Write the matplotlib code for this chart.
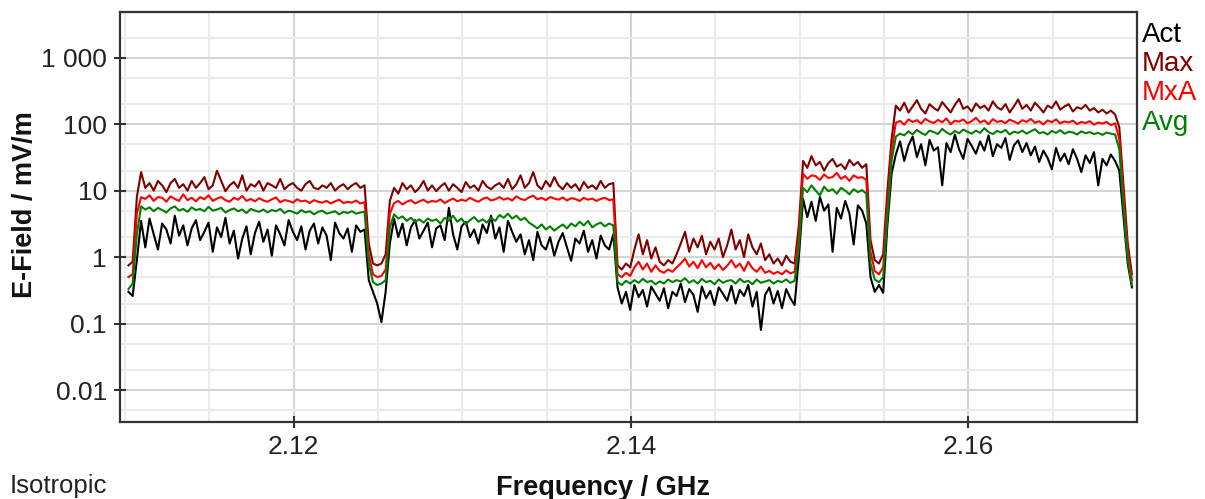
import numpy as np
import matplotlib
matplotlib.use("Agg")
import matplotlib.pyplot as plt
from matplotlib.ticker import FixedLocator, LogLocator, MultipleLocator, NullFormatter

plt.rcParams['font.family'] = ['Liberation Sans', 'DejaVu Sans']

# sweep limits (GHz), one trace point every 0.25 MHz
f_start, f_stop = 2.1102, 2.1697

# E-field in mV/m
act = [0.3, 0.26, 0.9,
       # band 1
       3.5, 1.4, 3.8, 2.2, 1.3, 3.2, 2.6, 1.6, 4.2, 2.1, 3, 1.5, 2.7, 3.6, 1.8, 2.4, 3.3, 1.2,
       2.8, 2, 3.9, 1.6, 2.5, 0.95, 1.9, 2.9, 1.1, 2.3, 3.4, 1.7, 2.6, 1.05, 3, 2.2, 1.5, 3.6,
       2.4, 1.8, 2.9, 1.3, 2.5, 3.2, 1.6, 2.8, 2.1, 0.9, 3.3, 2.3, 1.9, 2.7, 1.2, 3, 2.4, 2.6,
       # notch
       0.45, 0.3, 0.2, 0.105, 0.3, 1.6,
       # band 2
       3.8, 2, 3.2, 1.5, 2.8, 3.6, 1.9, 2.5, 3.3, 1.4, 2.7, 3, 1.8, 5.5, 2.2, 1.3, 2.9, 3.4,
       2, 2.6, 1.6, 3.1, 2.3, 4.2, 1.9, 2.8, 1.2, 3.5, 2.4, 1.7, 2.2, 1.1, 1.8, 0.9, 2.4, 1.5,
       1.3, 2, 1.05, 1.7, 2.3, 1.4, 0.88, 1.9, 1.6, 2.5, 1.2, 1.8, 0.95, 2.1, 1.5, 1.3, 2.2,
       # band 3 (quiet)
       0.35, 0.2, 0.3, 0.16, 0.38, 0.25, 0.32, 0.18, 0.36, 0.28, 0.22, 0.34, 0.17, 0.3, 0.26,
       0.4, 0.21, 0.33, 0.27, 0.15, 0.36, 0.24, 0.31, 0.19, 0.35, 0.28, 0.22, 0.37, 0.2, 0.32,
       0.26, 0.38, 0.18, 0.3, 0.08, 0.27, 0.35, 0.2, 0.31, 0.17, 0.33, 0.24, 0.19,
       1.0,
       # band 4
       7.5, 4, 6.8, 3.5, 8, 5, 6.2, 1.2, 5.5, 3.8, 7, 4.5, 1.55, 6, 5, 3.2,
       0.5, 0.3, 0.38, 0.29, 3, 18,
       # band 5
       35, 55, 28, 48, 65, 32, 50, 24, 58, 40, 45, 12, 52, 38, 70, 42, 30, 60, 47, 36, 55, 40,
       68, 33, 50, 44, 62, 29, 48, 57, 38, 52, 34, 46, 27, 40, 31, 21, 44, 28, 36, 25, 42, 30,
       19, 34, 26, 38, 12, 30, 24, 35, 28,
       20, 4, 0.8, 0.35]

mx = [0.75, 0.85, 8,
      19, 11, 13, 10, 14, 12, 9.5, 13, 15, 11, 12.5, 10, 14, 11, 13, 16, 10.5, 12, 20, 14,
      9.8, 12, 13.5, 11, 17, 10, 12.5, 11.5, 14, 10, 13, 12, 11, 15, 10.5, 12, 13, 11, 10,
      12.5, 14, 11, 10.5, 12, 11, 13, 10, 11.5, 12.5, 10.5, 12, 13, 11, 12,
      1.6, 0.8, 0.75, 0.8, 1.1, 7,
      11, 9, 13, 10.5, 12, 9.5, 11, 14, 10, 12, 9.8, 11.5, 13, 10, 12.5, 11, 9.5, 13.5, 11,
      12, 10, 14, 11.5, 10.5, 12, 13, 11, 15, 10.5, 12.5, 17, 11, 13, 19, 12, 10.5, 14, 11.5,
      16, 12, 10.5, 13, 11, 12.5, 10, 13.5, 11, 12, 10.5, 14, 11, 12.5, 13,
      0.75, 0.65, 0.8, 0.7, 1.3, 2.2, 1.1, 1.8, 0.95, 1.4, 0.85, 0.75, 0.9, 0.8, 1.1, 1.6,
      2.4, 1.2, 1.9, 1.4, 2.1, 1.1, 1.7, 1.3, 1.9, 1, 1.5, 2.6, 1.3, 1.8, 1, 2.2, 1.4, 1.1,
      1.6, 0.9, 1.1, 0.8, 0.95, 0.75, 1.05, 0.85, 0.8,
      3,
      28, 22, 33, 24, 27, 20, 26, 30, 23, 25, 21, 29, 24, 27, 22, 25,
      1.8, 0.9, 0.8, 1.1, 10, 60,
      190, 160, 210, 150, 185, 230, 170, 145, 200, 175, 160, 215, 180, 150, 195, 240, 170,
      185, 155, 205, 175, 190, 160, 220, 180, 165, 200, 150, 185, 235, 170, 195, 160, 210,
      180, 150, 190, 175, 220, 165, 185, 200, 155, 180, 170, 195, 160, 175, 150, 165, 145,
      160, 140,
      90, 12, 1.6, 0.55]

mxa = [0.5, 0.55, 4.5,
       8, 7.5, 8.5, 7, 8, 7.8, 6.8, 8.2, 7.5, 7, 8.8, 7.2, 7.8, 6.9, 8, 7.4, 8.5, 7, 7.6, 8,
       7.2, 6.8, 7.8, 7.3, 8.3, 7, 7.5, 6.9, 7.7, 7.1, 6.8, 7.4, 7.9, 6.7, 7.2, 7, 6.6, 7.4,
       6.9, 7.1, 6.5, 7.2, 6.8, 6.6, 7, 6.4, 6.9, 7.3, 6.5, 6.8, 6.6, 7.1, 6.4, 6.7,
       1.1, 0.55, 0.5, 0.52, 0.65, 4.5,
       6.5, 7, 6.2, 6.8, 7.2, 6.4, 6.9, 7.3, 6.6, 7, 6.8, 7.4, 6.5, 7.1, 7.6, 6.9, 7.3, 7,
       7.8, 7.2, 6.8, 7.5, 7.9, 7.1, 7.4, 8, 7.3, 7.7, 7.1, 8.2, 7.5, 7.2, 7.9, 8.4, 7.4, 7.8,
       7.2, 8, 7.6, 7.3, 7.9, 7.1, 7.7, 7.5, 7, 7.8, 7.3, 7.6, 7, 7.5, 7.8, 7.2, 7.4,
       0.55, 0.5, 0.58, 0.52, 0.7, 0.85, 0.65, 0.8, 0.6, 0.75, 0.62, 0.58, 0.65, 0.6, 0.7,
       0.8, 0.95, 0.72, 0.85, 0.68, 0.9, 0.7, 0.82, 0.66, 0.78, 0.64, 0.74, 0.9, 0.7, 0.8,
       0.62, 0.85, 0.68, 0.6, 0.72, 0.58, 0.62, 0.56, 0.6, 0.55, 0.63, 0.57, 0.6,
       2,
       18, 15, 17, 16.5, 14.5, 17.5, 15.5, 16, 18.5, 15, 16.5, 14, 17, 15.5, 16, 14.5,
       1.2, 0.62, 0.55, 0.7, 6, 40,
       105, 112, 98, 118, 108, 115, 102, 120, 110, 104, 116, 107, 122, 100, 113, 109, 118,
       103, 111, 125, 106, 114, 100, 119, 108, 112, 104, 117, 110, 102, 115, 108, 120, 105,
       111, 99, 114, 107, 118, 103, 110, 106, 113, 100, 108, 104, 111, 98, 106, 102, 108, 97,
       103,
       60, 8, 1.2, 0.45]

avg = [0.33, 0.4, 2.2,
       5.8, 5.2, 5.6, 4.9, 5.5, 5.1, 4.7, 5.4, 5.8, 5, 5.3, 4.8, 5.6, 5.1, 5.3, 4.9, 5.7, 5,
       5.2, 5.5, 4.7, 5.1, 5.4, 4.9, 5.2, 4.6, 5.3, 5, 4.8, 5.2, 4.7, 5.1, 4.9, 5.3, 4.6, 5,
       4.8, 4.5, 5.1, 4.7, 4.9, 4.4, 4.8, 5, 4.5, 4.7, 4.9, 4.4, 4.8, 4.6, 4.9, 4.5, 4.7, 4.8,
       0.8, 0.42, 0.38, 0.4, 0.45, 2.8,
       4.4, 3.8, 4.1, 3.5, 3.9, 3.4, 3.7, 3.3, 3.8, 3.5, 3.7, 3.2, 3.9, 3.5, 4.2, 3.4, 3.8,
       3.1, 3.6, 4, 3.4, 3.7, 3.3, 3.9, 3.5, 4.3, 3.9, 4.5, 3.8, 4.2, 3.6, 3.9, 3.3, 3, 2.7,
       3.1, 2.6, 2.9, 2.5, 2.8, 3.1, 2.7, 3.2, 2.9, 3.4, 3, 3.5, 2.8, 3.1, 3.3, 2.9, 3.2, 3,
       0.42, 0.38, 0.44, 0.4, 0.45, 0.41, 0.47, 0.42, 0.44, 0.39, 0.43, 0.4, 0.46, 0.42, 0.45,
       0.43, 0.48, 0.41, 0.45, 0.4, 0.47, 0.42, 0.44, 0.39, 0.46, 0.41, 0.44, 0.45, 0.4, 0.47,
       0.42, 0.44, 0.39, 0.46, 0.41, 0.43, 0.45, 0.4, 0.44, 0.42, 0.46, 0.41, 0.44,
       1.4,
       11, 9.5, 12, 10, 8.5, 11.5, 9.8, 10.5, 9, 11, 10, 8.8, 10.5, 9.5, 10.2, 9,
       0.8, 0.46, 0.42, 0.5, 4, 28,
       65, 72, 68, 78, 70, 82, 74, 69, 80, 76, 71, 85, 75, 70, 79, 73, 83, 77, 72, 80, 74, 87,
       76, 71, 79, 75, 82, 70, 77, 74, 80, 72, 78, 84, 73, 76, 70, 79, 74, 81, 72, 77, 75, 70,
       78, 73, 76, 71, 74, 69, 75, 72, 70,
       42, 5.5, 0.9, 0.38]

names = ['Act', 'Max', 'MxA', 'Avg']
colors = ['#000000', '#800000', '#ff0000', '#008000']

yticks = [0.01, 0.1, 1, 10, 100, 1000]
ytick_labels = ['0.01', '0.1', '1', '10', '100', '1 000']
xticks = [2.12, 2.14, 2.16]
xtick_labels = ['2.12', '2.14', '2.16']

freq = np.linspace(f_start, f_stop, len(act))

fig = plt.figure(figsize=(12.05, 4.99), dpi=100)
ax = fig.add_axes([120 / 1205, 77 / 499, 1017 / 1205, 410 / 499])

for vals, c in zip([act, mx, mxa, avg], colors):
    ax.plot(freq, vals, color=c, lw=1.5, zorder=3)

ax.set_yscale('log')
ax.set_xlim(2.1097, 2.1700)
ax.set_ylim(0.0033, 4875)

ax.yaxis.set_major_locator(FixedLocator(yticks))
ax.set_yticklabels(ytick_labels)
ax.yaxis.set_minor_locator(LogLocator(base=10, subs=(2, 5)))
ax.yaxis.set_minor_formatter(NullFormatter())
ax.xaxis.set_major_locator(FixedLocator(xticks))
ax.set_xticklabels(xtick_labels)
ax.xaxis.set_minor_locator(MultipleLocator(0.005))

ax.grid(which='minor', color='#ebebeb', lw=1.5, zorder=0)
ax.grid(which='major', color='#d4d4d4', lw=1.5, zorder=1)
ax.set_axisbelow(True)

ax.tick_params(which='major', direction='inout', length=9, width=1.5, color='#333333',
               labelsize=19, labelcolor='#222222', pad=5)
ax.tick_params(which='minor', length=0)
for s in ax.spines.values():
    s.set_color('#333333')
    s.set_linewidth(1.6)

fig.text(25 / 1205, 1 - 205 / 499, 'E-Field / mV/m', rotation=90, ha='center', va='center',
         fontsize=19.5, fontweight='bold', color='#111111')
fig.text(0.5, 1 - 495 / 499, 'Frequency / GHz', ha='center', va='baseline',
         fontsize=19.5, fontweight='bold', color='#111111')
fig.text(10 / 1205, 1 - 493 / 499, 'Isotropic', ha='left', va='baseline',
         fontsize=18.5, color='#222222')

# series names stacked right of the plot, coloured like the traces
for k, (n, c) in enumerate(zip(names, colors)):
    fig.text(1142 / 1205, 1 - (41.7 + 29.4 * k) / 499, n, ha='left', va='baseline',
             fontsize=20, color=c)

fig.savefig('out.png', dpi=100)
